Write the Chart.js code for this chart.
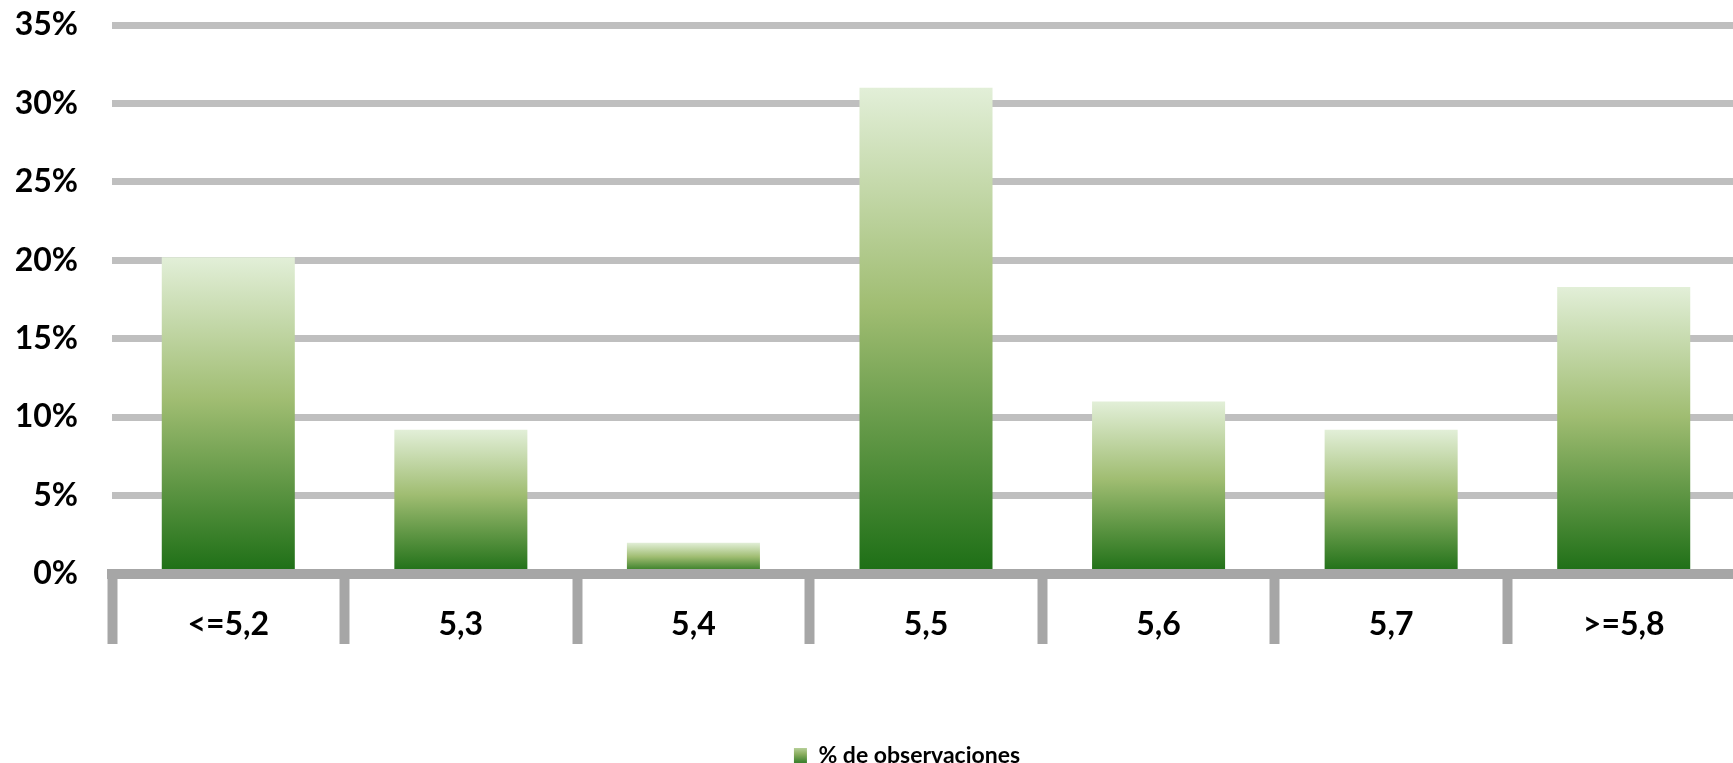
<!DOCTYPE html>
<html>
<head>
<meta charset="utf-8">
<script src="https://cdn.jsdelivr.net/npm/chart.js@4/dist/chart.umd.min.js"></script>
<style>
  html, body { margin: 0; padding: 0; background: #ffffff; overflow: hidden; }
  #wrap { position: relative; width: 1814px; height: 763px; }
</style>
</head>
<body>
<div id="wrap"><canvas id="c" width="1814" height="763"></canvas></div>
<script>
const categories = ['<=5,2', '5,3', '5,4', '5,5', '5,6', '5,7', '>=5,8'];
const observaciones = [20.2, 9.2, 2.0, 31.0, 11.0, 9.2, 18.3];
const seriesLabel = '% de observaciones';
const yTicks = [0, 5, 10, 15, 20, 25, 30, 35];

const FONT = 'Lato, "Open Sans", sans-serif';

function barGradient(ctx) {
  const chart = ctx.chart;
  const area = chart.chartArea;
  if (!area || !chart.scales.y) return '#9DBB6E';
  const v = ctx.raw;
  const y = chart.scales.y;
  const top = y.getPixelForValue(v);
  const bottom = y.getPixelForValue(0);
  const g = chart.ctx.createLinearGradient(0, top, 0, bottom);
  g.addColorStop(0, '#E2EFD8');
  g.addColorStop(0.45, '#A0BD72');
  g.addColorStop(1, '#1C6E15');
  return g;
}

function legendGradient(chart) {
  const g = chart.ctx.createLinearGradient(0, 746, 0, 762);
  g.addColorStop(0, '#C4DAAB');
  g.addColorStop(0.5, '#8BAE60');
  g.addColorStop(1, '#3F8230');
  return g;
}

const chart = new Chart(document.getElementById('c'), {
  type: 'bar',
  data: {
    labels: categories,
    datasets: [{
      label: seriesLabel,
      data: observaciones,
      backgroundColor: barGradient,
      borderWidth: 0,
      categoryPercentage: 1,
      barPercentage: 0.572
    }]
  },
  options: {
    responsive: false,
    animation: false,
    devicePixelRatio: 1,
    layout: { padding: { top: 25, right: 0, left: 0, bottom: -14 } },
    plugins: {
      tooltip: { enabled: false },
      legend: {
        display: true,
        position: 'bottom',
        labels: {
          font: { family: FONT, size: 23, weight: 'bold' },
          color: '#000000',
          boxWidth: 13,
          boxHeight: 15,
          padding: 0,
          generateLabels: (ch) => [{
            text: seriesLabel,
            fillStyle: legendGradient(ch),
            strokeStyle: 'rgba(0,0,0,0)',
            lineWidth: 0,
            datasetIndex: 0,
            hidden: false,
            fontColor: '#000000'
          }]
        }
      }
    },
    scales: {
      x: {
        type: 'category',
        offset: true,
        grid: {
          offset: true,
          drawOnChartArea: false,
          drawTicks: true,
          tickLength: 70,
          tickWidth: 10,
          tickColor: '#A6A6A6'
        },
        border: { display: true, color: '#A6A6A6', width: 10, z: 1 },
        ticks: {
          font: { family: FONT, size: 32, weight: 'bold' },
          color: '#000000',
          padding: -39,
          maxRotation: 0,
          autoSkip: false
        },
        afterFit: (s) => { s.height = 170; s.paddingLeft = 0; s.paddingRight = 0; }
      },
      y: {
        min: 0,
        max: 35,
        afterBuildTicks: (s) => { s.ticks = yTicks.map(v => ({ value: v })); },
        grid: {
          color: '#BFBFBF',
          lineWidth: 7,
          drawTicks: false
        },
        border: { display: false },
        ticks: {
          font: { family: FONT, size: 32, weight: 'bold' },
          color: '#000000',
          padding: 34,
          callback: (v) => v + '%'
        },
        afterFit: (s) => { s.width = 112; s.paddingTop = 0; s.paddingBottom = 0; }
      },
      yRight: {
        position: 'right',
        min: 0,
        max: 35,
        grid: { display: false, drawOnChartArea: false },
        border: { display: false },
        ticks: { display: false },
        afterFit: (s) => { s.width = 74; s.paddingTop = 0; s.paddingBottom = 0; }
      }
    }
  }
});
</script>
</body>
</html>
